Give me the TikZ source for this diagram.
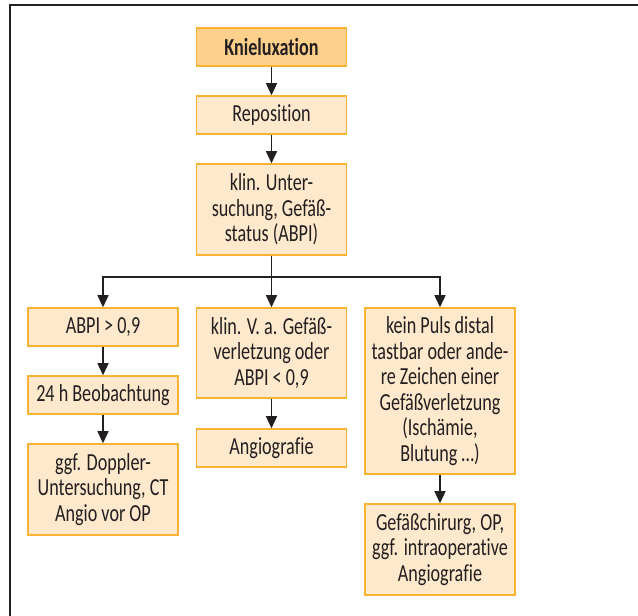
\documentclass[tikz,border=0pt]{standalone}
\usepackage{fontspec}
\setmainfont{Carlito}[FakeStretch=0.74, Ligatures=NoCommon]
\usetikzlibrary{arrows.meta}
\definecolor{boxorange}{RGB}{250,178,50}
\definecolor{boxlight}{RGB}{255,233,204}
\definecolor{boxhead}{RGB}{255,208,140}
\definecolor{textgray}{RGB}{35,31,32}

\tikzset{
  stepbox/.style={draw=boxorange, fill=boxlight, line width=1.5pt, minimum width=150pt,
    align=center, inner sep=0pt, text=textgray, font=\fontsize{24.5}{25.5}\selectfont},
  headbox/.style={stepbox, fill=boxhead, font=\fontsize{24.5}{25.5}\selectfont\bfseries},
  arr/.style={-{Triangle[width=11pt,length=12pt]}, line width=1.3pt, draw=textgray}
}

\begin{document}
\begin{tikzpicture}[x=1pt,y=1pt]
    \useasboundingbox (0,0) rectangle (638,616);
    % frame
    \draw[line width=2pt, textgray] (9.5,0) -- (9.5,611) -- (638,611);

    % main column
    \node[headbox, minimum height=38pt] (knie) at (271.5,569) {Knieluxation};
    \node[stepbox, minimum height=38pt] (repos) at (271.5,501) {Reposition};
    \node[stepbox, minimum height=91pt] (klin) at (271.5,406.5) {klin. Unter-\\suchung, Gefäß-\\status (ABPI)};

    % left column
    \node[stepbox, minimum height=38pt] (abpihigh) at (103,289) {ABPI\,>\,0,9};
    \node[stepbox, minimum height=38pt] (obs) at (103,221) {24\,h Beobachtung};
    \node[stepbox, minimum height=91pt] (doppler) at (103,126.5) {ggf. Doppler-\\Untersuchung, CT\\Angio vor OP};

    % middle column
    \node[stepbox, minimum height=90pt] (verdacht) at (271.5,263) {klin. V.\,a. Gefäß-\\verletzung oder\\ABPI\,<\,0,9};
    \node[stepbox, minimum height=38pt] (angio) at (271.5,168) {Angiografie};

    % right column
    \node[stepbox, minimum height=166pt] (puls) at (440,225) {kein Puls distal\\tastbar oder ande-\\re Zeichen einer\\Gefäßverletzung\\(Ischämie,\\Blutung \dots)};
    \node[stepbox, minimum height=91pt] (chir) at (440,66.5) {Gefäßchirurg, OP,\\ggf. intraoperative\\Angiografie};

    % connectors
    \draw[arr] (knie) -- (repos);
    \draw[arr] (repos) -- (klin);
    \draw[line width=1.3pt, textgray] (klin.south) -- (271.5,339) coordinate (split);
    \draw[arr] (split) -| (abpihigh.north);
    \draw[arr] (split) -- (verdacht.north);
    \draw[arr] (split) -| (puls.north);
    \draw[arr] (abpihigh) -- (obs);
    \draw[arr] (obs) -- (doppler);
    \draw[arr] (verdacht) -- (angio);
    \draw[arr] (puls) -- (chir);
\end{tikzpicture}
\end{document}
